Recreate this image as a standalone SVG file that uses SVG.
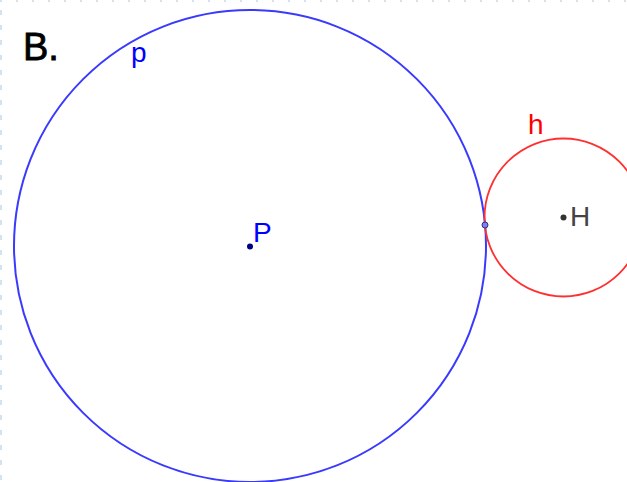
<svg xmlns="http://www.w3.org/2000/svg" width="627" height="482" viewBox="0 0 627 482">
<style>
.lbl{font-family:"Liberation Sans",Arial,sans-serif;font-size:28px}
.border{stroke:#d4e3f1;stroke-width:2;fill:none}
</style>
<rect width="627" height="482" fill="#ffffff"/>
<line class="border" x1="1" y1="10" x2="1" y2="482" stroke-dasharray="5 10"/>
<line class="border" x1="0" y1="1" x2="627" y2="1" stroke-dasharray="2 14"/>
<text x="23" y="60" font-family="'Liberation Sans',Arial,sans-serif" font-size="38" fill="#000" stroke="#000" stroke-width="0.8">B.</text>
<g id="circle-p">
<circle cx="250" cy="246" r="236" fill="none" stroke="#3a3aff" stroke-width="2"/>
<text class="lbl" x="131" y="62" fill="#0000ff">p</text>
</g>
<g id="circle-h">
<circle cx="563.5" cy="217.5" r="79" fill="none" stroke="#ff3030" stroke-width="1.8"/>
<text class="lbl" x="528" y="134" fill="#ff0000">h</text>
</g>
<g id="point-P">
<circle cx="250" cy="246.5" r="3" fill="#000080"/>
<text class="lbl" x="253" y="242" fill="#0000ff">P</text>
</g>
<g id="point-H">
<circle cx="563.5" cy="217.5" r="3" fill="#333333"/>
<text class="lbl" x="570" y="226" fill="#444444">H</text>
</g>
<g id="tangent-point">
<circle cx="485" cy="225" r="3" fill="#7d7dff" stroke="#333366" stroke-width="1"/>
</g>
</svg>
